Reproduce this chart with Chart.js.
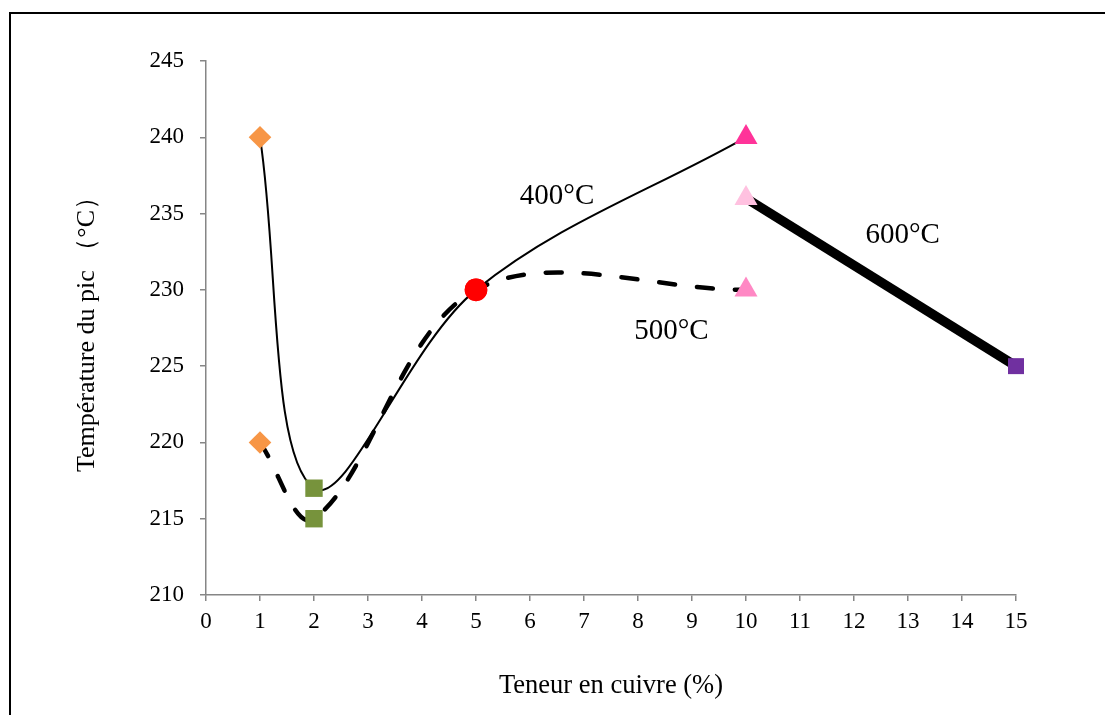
<!DOCTYPE html>
<html>
<head>
<meta charset="utf-8">
<script src="https://cdn.jsdelivr.net/npm/chart.js@4"></script>
<style>
  html, body { margin: 0; padding: 0; background: #fff; overflow: hidden; }
  canvas { display: block; }
</style>
</head>
<body>
<canvas id="c" width="1105" height="715"></canvas>
<script>
// teneur en cuivre (%) et température du pic (°C) pour chaque recuit
const cuivre400 = [1, 2, 5, 10];
const temp400 = [240, 217, 230, 240];
const style400 = ['rectRot', 'rect', 'circle', 'triangle'];
const color400 = ['#F79646', '#77933C', '#FF0000', '#FF3399'];

const cuivre500 = [1, 2, 5, 10];
const temp500 = [220, 215, 230, 230];
const style500 = ['rectRot', 'rect', 'circle', 'triangle'];
const color500 = ['#F79646', '#77933C', '#FF0000', '#FF88C4'];

const cuivre600 = [10, 15];
const temp600 = [236, 225];
const style600 = ['triangle', 'rect'];
const color600 = ['#FFC1E0', '#7030A0'];

const xTicks = [0, 1, 2, 3, 4, 5, 6, 7, 8, 9, 10, 11, 12, 13, 14, 15];
const yTicks = [210, 215, 220, 225, 230, 235, 240, 245];

// étiquettes des courbes (en unités des axes)
const labelText = ['400°C', '500°C', '600°C'];
const labelX = [6.5, 8.62, 12.9];
const labelY = [236.1, 227.3, 233.6];

const serif = '"Liberation Serif", "Times New Roman", serif';
const axisGray = '#868686';

function pts(xs, ys) {
  return xs.map((x, i) => ({ x, y: ys[i] }));
}

function radii(styles) {
  return styles.map(s => s === 'triangle' ? 13.3 : s === 'rect' ? 12.3 : 11.3);
}

const frame = {
  id: 'frame',
  beforeDraw(chart) {
    const ctx = chart.ctx;
    ctx.save();
    ctx.fillStyle = '#fff';
    ctx.fillRect(0, 0, chart.width, chart.height);
    ctx.strokeStyle = '#000';
    ctx.lineWidth = 2;
    ctx.strokeRect(10, 13, 1200, 800);
    ctx.restore();
  }
};

const curveLabels = {
  id: 'curveLabels',
  afterDatasetsDraw(chart) {
    const ctx = chart.ctx;
    const xs = chart.scales.x, ys = chart.scales.y;
    ctx.save();
    ctx.font = '29px ' + serif;
    ctx.fillStyle = '#000';
    ctx.textAlign = 'center';
    ctx.textBaseline = 'middle';
    labelText.forEach((t, i) => {
      ctx.fillText(t, xs.getPixelForValue(labelX[i]), ys.getPixelForValue(labelY[i]));
    });
    ctx.restore();
  }
};

new Chart(document.getElementById('c'), {
  type: 'line',
  data: {
    datasets: [
      {
        label: '400°C',
        data: pts(cuivre400, temp400),
        borderColor: '#000',
        borderWidth: 2,
        tension: 0.35,
        pointStyle: style400,
        pointRadius: radii(style400),
        pointBackgroundColor: color400,
        pointBorderColor: color400,
        pointBorderWidth: 0
      },
      {
        label: '500°C',
        data: pts(cuivre500, temp500),
        borderColor: '#000',
        borderWidth: 4.5,
        borderDash: [16, 22],
        borderCapStyle: 'round',
        tension: 0.35,
        pointStyle: style500,
        pointRadius: radii(style500),
        pointBackgroundColor: color500,
        pointBorderColor: color500,
        pointBorderWidth: 0
      },
      {
        label: '600°C',
        data: pts(cuivre600, temp600),
        borderColor: '#000',
        borderWidth: 9.5,
        tension: 0,
        pointStyle: style600,
        pointRadius: [13.3, 11.3],
        pointBackgroundColor: color600,
        pointBorderColor: color600,
        pointBorderWidth: 0
      }
    ]
  },
  options: {
    responsive: false,
    animation: false,
    clip: false,
    layout: { padding: { left: 10, top: 61, right: 89, bottom: 0 } },
    plugins: {
      legend: { display: false },
      tooltip: { enabled: false }
    },
    scales: {
      x: {
        type: 'linear',
        min: 0,
        max: 15,
        afterFit: s => { s.height = 120; },
        afterBuildTicks: s => { s.ticks = xTicks.map(v => ({ value: v })); },
        grid: { drawOnChartArea: false, color: axisGray, tickLength: 6, lineWidth: 1.5 },
        border: { color: axisGray, width: 1.5 },
        ticks: { color: '#000', font: { family: serif, size: 23 }, padding: 7, maxRotation: 0, autoSkip: false },
        title: {
          display: true,
          text: 'Teneur en cuivre (%)',
          color: '#000',
          font: { family: serif, size: 26.5 },
          padding: { top: 0, bottom: 13 }
        }
      },
      y: {
        min: 210,
        max: 245,
        afterFit: s => { s.width = 196; },
        afterBuildTicks: s => { s.ticks = yTicks.map(v => ({ value: v })); },
        grid: { drawOnChartArea: false, color: axisGray, tickLength: 6, lineWidth: 1.5 },
        border: { color: axisGray, width: 1.5 },
        ticks: { color: '#000', font: { family: serif, size: 23 }, padding: 16 },
        title: {
          display: true,
          text: 'Température du pic （°C）',
          color: '#000',
          font: { family: serif, size: 26 },
          padding: { top: 62, bottom: 0 }
        }
      }
    }
  },
  plugins: [frame, curveLabels]
});
</script>
</body>
</html>
